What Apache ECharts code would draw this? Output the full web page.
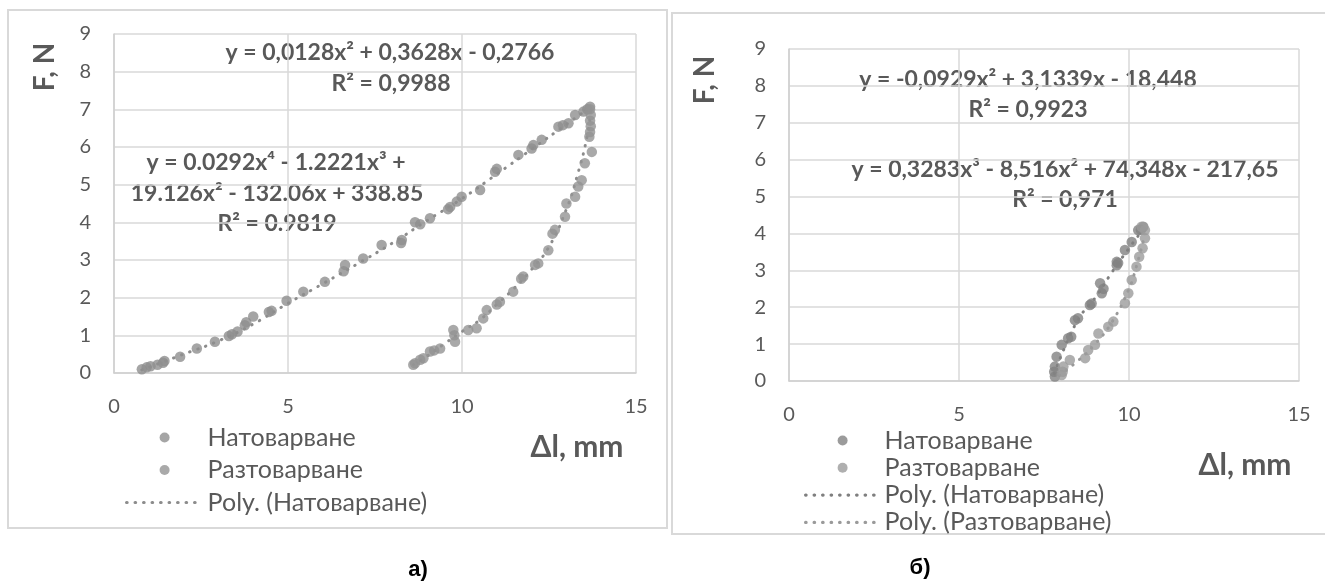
<!DOCTYPE html>
<html>
<head>
<meta charset="utf-8">
<script src="https://cdn.jsdelivr.net/npm/echarts@6/dist/echarts.min.js"></script>
<style>
  html, body { margin: 0; padding: 0; background: #fff; }
  #chartA { position: absolute; left: 0; top: 0; width: 668px; height: 581px; }
  #chartB { position: absolute; left: 668px; top: 0; width: 657px; height: 581px; }
</style>
</head>
<body>
<div id="chartA"></div>
<div id="chartB"></div>
<script>
// ---- data: chart a) ----
const aLoading = [
  [0.8, 0.1], [0.94, 0.15], [1.05, 0.18], [1.25, 0.22], [1.41, 0.27], [1.45, 0.32],
  [1.9, 0.43], [2.38, 0.65], [2.9, 0.83], [3.3, 0.98], [3.39, 1.03], [3.55, 1.1],
  [3.76, 1.27], [3.8, 1.35], [4.0, 1.5], [4.45, 1.62], [4.53, 1.65], [4.96, 1.92],
  [5.44, 2.16], [6.06, 2.42], [6.64, 2.87], [6.6, 2.7], [7.16, 3.04], [7.69, 3.4],
  [8.27, 3.53], [8.25, 3.45], [8.65, 4.0], [8.8, 3.95], [9.08, 4.11], [9.6, 4.35],
  [9.66, 4.41], [9.85, 4.55], [9.99, 4.68], [10.52, 4.86], [10.95, 5.34], [11.0, 5.42],
  [11.62, 5.79], [12.0, 5.96], [12.05, 6.05], [12.29, 6.19], [12.77, 6.54], [12.9, 6.58],
  [13.06, 6.63], [13.25, 6.85], [13.49, 6.94], [13.6, 7.0], [13.68, 7.07]
];
const aUnloading = [
  [13.68, 7.0], [13.7, 6.85], [13.68, 6.7], [13.7, 6.55], [13.68, 6.4], [13.66, 6.27],
  [13.73, 5.87], [13.53, 5.57], [13.44, 5.12], [13.34, 4.95], [13.25, 4.68], [13.0, 4.5],
  [12.96, 4.15], [12.67, 3.8], [12.6, 3.7], [12.48, 3.26], [12.19, 2.91], [12.1, 2.87],
  [11.76, 2.56], [11.7, 2.5], [11.47, 2.16], [11.09, 1.89], [11.0, 1.82], [10.71, 1.67],
  [10.61, 1.45], [10.42, 1.19], [10.18, 1.14], [9.75, 1.14], [9.78, 1.0], [9.8, 0.83],
  [9.37, 0.65], [9.2, 0.6], [9.08, 0.57], [8.89, 0.39], [8.8, 0.35], [8.65, 0.26], [8.6, 0.22]
];
const aLoadingTrend = [
  [0.8, 0.08], [2, 0.5], [3, 0.85], [4, 1.3], [5, 1.85], [6, 2.37], [7, 2.9],
  [8, 3.45], [9, 4.05], [10, 4.63], [11, 5.28], [12, 5.94], [13, 6.6], [13.6, 7.0]
];
const aUnloadingTrend = [
  [8.6, 0.22], [9, 0.45], [9.5, 0.78], [10, 1.1], [10.5, 1.4], [11, 1.82], [11.5, 2.25],
  [12, 2.75], [12.5, 3.35], [13, 4.35], [13.3, 5.2], [13.6, 6.3], [13.7, 7.0]
];

// ---- data: chart б) ----
const bLoading = [
  [7.82, 0.12], [7.8, 0.25], [7.82, 0.39], [7.87, 0.66], [8.02, 0.98], [8.21, 1.16],
  [8.3, 1.2], [8.41, 1.65], [8.5, 1.7], [8.85, 2.06], [8.9, 2.1], [9.2, 2.38], [9.25, 2.5],
  [9.15, 2.65], [9.64, 3.14], [9.68, 3.2], [9.64, 3.23], [9.88, 3.55], [10.08, 3.77],
  [10.27, 4.09], [10.42, 4.18], [10.35, 4.1]
];
const bUnloading = [
  [8.02, 0.16], [8.05, 0.25], [8.07, 0.39], [8.26, 0.57], [8.71, 0.62], [8.8, 0.84],
  [9.0, 0.98], [9.1, 1.29], [9.39, 1.47], [9.54, 1.61], [9.88, 2.11], [9.98, 2.38],
  [10.08, 2.74], [10.22, 3.1], [10.3, 3.37], [10.4, 3.6], [10.47, 3.87], [10.47, 4.09],
  [10.37, 4.18]
];
const bLoadingTrend = [
  [7.8, 0.2], [8.2, 1.1], [8.6, 1.8], [9, 2.25], [9.5, 2.95], [10, 3.6], [10.45, 4.15]
];
const bUnloadingTrend = [
  [7.95, 0.15], [8.5, 0.55], [9, 1.0], [9.5, 1.6], [10, 2.5], [10.2, 3.05], [10.45, 3.9]
];

// ---- labels ----
const xTicks = { min: 0, max: 15, interval: 5 };
const yTicks = { min: 0, max: 9, interval: 1 };
const nameLoading = "Натоварване";
const nameUnloading = "Разтоварване";
const nameTrendLoading = "Poly. (Натоварване)";
const nameTrendUnloading = "Poly. (Разтоварване)";

const FONT = "Lato, 'Open Sans', sans-serif";
const TXT = "#595959";
const GRID_LINE = "#d9d9d9";

function axes() {
  return {
    xAxis: {
      type: "value", min: xTicks.min, max: xTicks.max, interval: xTicks.interval,
      axisLine: { show: true, lineStyle: { color: "#cfcfcf", width: 1.5 } },
      axisTick: { show: false },
      axisLabel: { color: TXT, fontSize: 20, fontFamily: FONT, margin: 24 },
      splitLine: { show: true, lineStyle: { color: GRID_LINE, width: 1.5 } }
    },
    yAxis: {
      type: "value", min: yTicks.min, max: yTicks.max, interval: yTicks.interval,
      axisLine: { show: true, lineStyle: { color: "#cfcfcf", width: 1.5 } },
      axisTick: { show: false },
      axisLabel: { color: TXT, fontSize: 20, fontFamily: FONT, margin: 23 },
      splitLine: { show: true, lineStyle: { color: GRID_LINE, width: 1.5 } }
    }
  };
}

function scatter(name, data, color) {
  return { name, type: "scatter", data, symbolSize: 10.5, itemStyle: { color }, z: 3 };
}

function trend(name, data, color) {
  return {
    name, type: "line", data, smooth: true, symbol: "none", z: 2,
    lineStyle: { color, width: 3, type: [0.5, 8], cap: "round" },
    itemStyle: { color }
  };
}

function text(x, y, str, font, fill, rotation) {
  return {
    type: "text", x, y, rotation: rotation || 0,
    style: {
      text: str, fill: fill || TXT, font: font || ("bold 23px " + FONT),
      align: "center", verticalAlign: "middle"
    }
  };
}

function legend(left, top, gap, w, names, lineNames) {
  const data = names.map(n => lineNames.includes(n) ? { name: n, itemStyle: { opacity: 0 } } : n);
  return {
    orient: "vertical", left, top, itemWidth: w, itemHeight: 10, itemGap: gap,
    data,
    lineStyle: { width: 3.2 },
    textStyle: { color: TXT, fontSize: 25, lineHeight: 22, fontFamily: FONT }
  };
}

// ---- chart a) ----
const chartA = echarts.init(document.getElementById("chartA"));
chartA.setOption(Object.assign({
  animation: false,
  grid: { left: 114, top: 34, width: 522, height: 339 },
  legend: legend(120, 420, 7.5, 76, [nameLoading, nameUnloading, nameTrendLoading], [nameTrendLoading]),
  series: [
    trend(nameTrendLoading, aLoadingTrend, "#8c8c8c"),
    trend(nameTrendUnloading, aUnloadingTrend, "#8c8c8c"),
    scatter(nameLoading, aLoading, "#8f8f8f"),
    scatter(nameUnloading, aUnloading, "#939393")
  ],
  graphic: [
    { type: "rect", shape: { x: 8, y: 10, width: 659, height: 518 }, style: { fill: "none", stroke: GRID_LINE, lineWidth: 2 }, silent: true },
    text(390, 53, "y = 0,0128x² + 0,3628x - 0,2766"),
    text(391, 84, "R² = 0,9988"),
    text(276, 163, "y = 0.0292x⁴ - 1.2221x³ +"),
    text(277, 194, "19.126x² - 132.06x + 338.85"),
    text(277, 224, "R² = 0.9819"),
    text(45, 67, "F, N", "bold 28px " + FONT, TXT, Math.PI / 2),
    text(577, 447, "Δl, mm", "bold 30px " + FONT),
    text(418, 570, "а)", "bold 22px 'Liberation Sans', Arial, sans-serif", "#000")
  ]
}, axes()));

// ---- chart б) ----
const chartB = echarts.init(document.getElementById("chartB"));
chartB.setOption(Object.assign({
  animation: false,
  grid: { left: 121, top: 49, width: 510, height: 332 },
  legend: legend(131, 423, 2.3, 74, [nameLoading, nameUnloading, nameTrendLoading, nameTrendUnloading], [nameTrendLoading, nameTrendUnloading]),
  series: [
    trend(nameTrendLoading, bLoadingTrend, "#7f7f7f"),
    trend(nameTrendUnloading, bUnloadingTrend, "#9a9a9a"),
    scatter(nameLoading, bLoading, "#828282"),
    scatter(nameUnloading, bUnloading, "#9b9b9b")
  ],
  graphic: [
    { type: "rect", shape: { x: 4, y: 13, width: 700, height: 521 }, style: { fill: "none", stroke: GRID_LINE, lineWidth: 2 }, silent: true },
    text(360, 80, "y = -0,0929x² + 3,1339x - 18,448"),
    text(360, 110, "R² = 0,9923"),
    text(397, 170, "y = 0,3283x³ - 8,516x² + 74,348x - 217,65"),
    text(397, 200, "R² = 0,971"),
    text(37, 80, "F, N", "bold 28px " + FONT, TXT, Math.PI / 2),
    text(577, 465, "Δl, mm", "bold 30px " + FONT),
    text(252, 568, "б)", "bold 22px 'Liberation Sans', Arial, sans-serif", "#000")
  ]
}, axes()));
</script>
</body>
</html>
